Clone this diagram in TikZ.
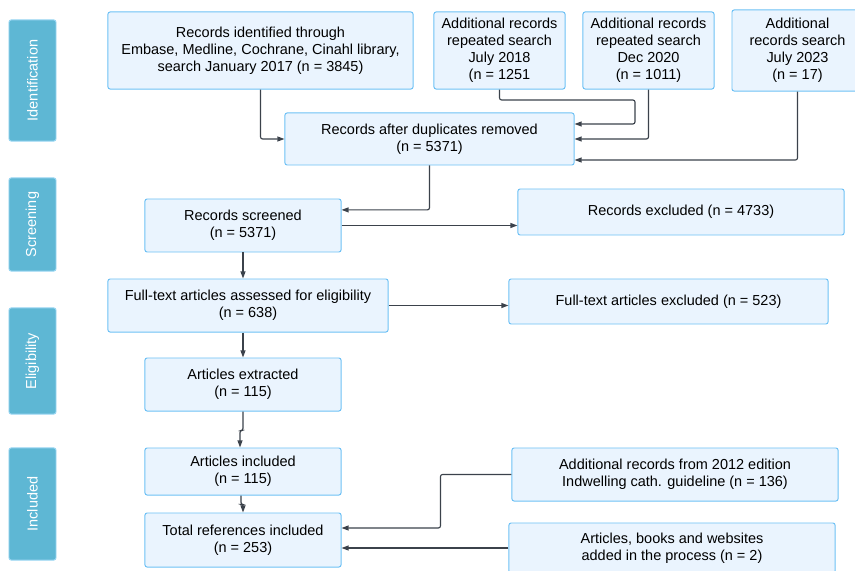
\documentclass[tikz,border=0pt]{standalone}
\usepackage{fontspec}
\setmainfont{Liberation Sans}
\usetikzlibrary{arrows.meta}
\definecolor{boxfill}{HTML}{EAF4FE}
\definecolor{boxline}{HTML}{6EC1F5}
\definecolor{stagefill}{HTML}{5EB7D4}
\definecolor{stageline}{HTML}{9AD6F2}
\definecolor{arrowcol}{HTML}{3B424B}
\tikzset{
  box/.style = {shape = rectangle, draw = boxline, fill = boxfill, rounded corners = 1.5pt,
    line width = 0.7pt, align = center, inner sep = 2pt, font = \fontsize{10.3}{12.2}\selectfont},
  stage/.style = {shape = rectangle, draw = stageline, fill = stagefill, rounded corners = 1.5pt,
    line width = 0.7pt, rotate = 90, text = white, minimum height = 1.175cm,
    font = \fontsize{10.3}{12.2}\selectfont},
  arr/.style = {draw = arrowcol, line width = 0.8pt, rounded corners = 1.5pt,
    -{Triangle[length = 5pt, width = 3.5pt]}}
}
\begin{document}
\begin{tikzpicture}[x = 0.025cm, y = -0.025cm]
    \useasboundingbox (0, 0) rectangle (855, 571);

    % stages on the left
    \node (id) [stage, minimum width = 3.025cm] at (32.5, 80.5) {Identification};
    \node (sc) [stage, minimum width = 2.325cm] at (32.5, 224.5) {Screening};
    \node (el) [stage, minimum width = 2.65cm] at (32.5, 361) {Eligibility};
    \node (in) [stage, minimum width = 2.8cm] at (32.5, 504) {Included};

    \node (A) [box, minimum width = 7.625cm, minimum height = 1.925cm] at (260.5, 50.5)
      {Records identified through\\Embase, Medline, Cochrane, Cinahl library,\\search January 2017 (n = 3845)};
    \node (a1) [box, minimum width = 3.275cm, minimum height = 1.925cm] at (499.5, 50.5)
      {Additional records\\repeated search\\July 2018\\(n = 1251};
    \node (a2) [box, minimum width = 3.275cm, minimum height = 1.925cm] at (648.5, 50.5)
      {Additional records\\repeated search\\Dec 2020\\(n = 1011)};
    \node (a3) [box, minimum width = 3.275cm, minimum height = 2.025cm] at (797.5, 50.5)
      {Additional\\records search\\July 2023\\(n = 17)};
    \node (D) [box, minimum width = 7.225cm, minimum height = 1.3cm] at (429.5, 139)
      {Records after duplicates removed\\(n = 5371)};

    \node (S) [box, minimum width = 4.9cm, minimum height = 1.325cm] at (243, 225.5)
      {Records screened\\(n = 5371)};
    \node (RE) [box, minimum width = 8.15cm, minimum height = 1.15cm] at (681, 212)
      {Records excluded (n = 4733)};

    \node (F) [box, minimum width = 7cm, minimum height = 1.325cm] at (248, 305.5)
      {Full-text articles assessed for eligibility\\(n = 638)};
    \node (FE) [box, minimum width = 7.975cm, minimum height = 1.125cm] at (668.5, 301.5)
      {Full-text articles excluded (n = 523)};
    \node (E) [box, minimum width = 4.9cm, minimum height = 1.325cm] at (243, 384.5)
      {Articles extracted\\(n = 115)};

    \node (I) [box, minimum width = 4.9cm, minimum height = 1.175cm] at (243, 471.5)
      {Articles included\\(n = 115)};
    \node (T) [box, minimum width = 4.9cm, minimum height = 1.35cm] at (243, 540)
      {Total references included\\(n = 253)};
    \node (G) [box, minimum width = 8.15cm, minimum height = 1.325cm] at (675, 474.5)
      {Additional records from 2012 edition\\Indwelling cath. guideline (n = 136)};
    \node (B) [box, minimum width = 8.15cm, minimum height = 1.25cm] at (672, 548)
      {Articles, books and websites\\added in the process (n = 2)};

    \draw [arr] (A.south) |- (D.west);
    \draw [arr] (a1.south) |- (635, 100) |- ([yshift = 0.375cm]D.east);
    \draw [arr] (a2.south) |- (D.east);
    \draw [arr] (a3.south) |- ([yshift = -0.525cm]D.east);
    \draw [arr] (D.south) |- ([yshift = 0.39cm]S.east);
    \draw [arr] (S.east) -- (S.east -| RE.west);
    \draw [arr] (S.south) -- (S.south |- F.north);
    \draw [arr] (F.east) -- (F.east -| FE.west);
    \draw [arr] (E.north |- F.south) -- (E.north);
    \draw [arr] (E.south) -- ++(0, 19) -| ([xshift = -0.075cm]I.north);
    \draw [arr] ([xshift = -0.05cm]I.south) -- ++(0, 9) -| (T.north);
    \draw [arr] (G.west) -- ++(-71, 0) |- ([yshift = 0.3cm]T.east);
    \draw [arr] (B.west) -- (B.west -| T.east);
  \end{tikzpicture}
\end{document}
